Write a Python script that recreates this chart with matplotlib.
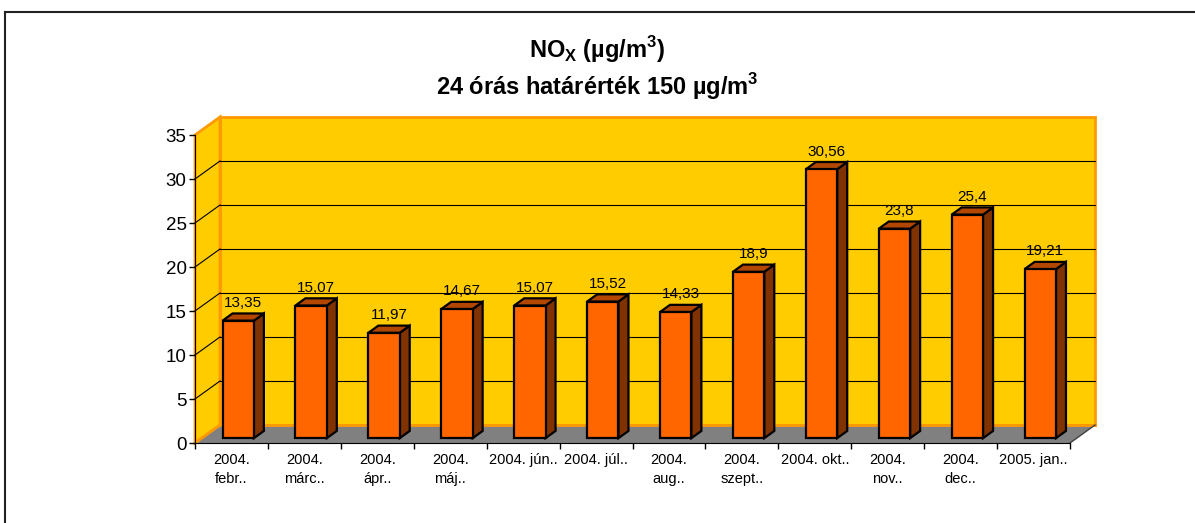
import matplotlib
matplotlib.use('Agg')
import matplotlib.pyplot as plt
from matplotlib.patches import Polygon
from matplotlib.lines import Line2D
from matplotlib.transforms import IdentityTransform

# monthly NOx averages
months = ['2004.\nfebr..', '2004.\nmárc..', '2004.\nápr..', '2004.\nmáj..',
          '2004. jún..', '2004. júl..', '2004.\naug..', '2004.\nszept..',
          '2004. okt..', '2004.\nnov..', '2004.\ndec..', '2005. jan..']
nox = [13.35, 15.07, 11.97, 14.67, 15.07, 15.52, 14.33, 18.9, 30.56, 23.8, 25.4, 19.21]
y_ticks = [0, 5, 10, 15, 20, 25, 30, 35]

W, H, DPI = 1195, 523, 100
DEPTH = (25, 18)            # pixel shift from front plane to back wall
BAR_FRONT, BAR_BACK = 0.27, 0.67
BAR_WIDTH = 0.43

WALL = '#FFCC00'
WALL_EDGE = '#FF9900'
FLOOR = '#808080'
BAR_FACE = '#FF6600'
BAR_SIDE = '#803300'
BAR_TOP = '#B34700'

plt.rcParams['font.family'] = ['Liberation Sans', 'DejaVu Sans']

fig = plt.figure(figsize=(W / DPI, H / DPI), dpi=DPI)
ax = fig.add_axes([195 / W, (H - 443) / H, 875 / W, 308 / H])
ax.set_xlim(0, len(nox))
ax.set_ylim(y_ticks[0], y_ticks[-1])
ax.set_autoscale_on(False)
ax.patch.set_visible(False)
for side in ('top', 'right'):
    ax.spines[side].set_visible(False)
ax.spines['left'].set_zorder(4)
ax.spines['bottom'].set_zorder(4)

n = len(nox)
ymax = y_ticks[-1]


def proj(x, y, d):
    """Data point on the front plane pushed d (0..1) into the depth."""
    px, py = ax.transData.transform((x, y))
    return (px + d * DEPTH[0], py + d * DEPTH[1])


def poly(pts, **kw):
    p = Polygon(pts, closed=True, transform=IdentityTransform(), clip_on=False, **kw)
    ax.add_patch(p)
    return p


def seg(p0, p1, **kw):
    ln = Line2D([p0[0], p1[0]], [p0[1], p1[1]], transform=IdentityTransform(),
                clip_on=False, **kw)
    ax.add_line(ln)


# walls and floor
poly([proj(0, 0, 1), proj(n, 0, 1), proj(n, ymax, 1), proj(0, ymax, 1)],
     facecolor=WALL, edgecolor=WALL_EDGE, linewidth=2, zorder=0.1)
poly([proj(0, 0, 0), proj(0, 0, 1), proj(0, ymax, 1), proj(0, ymax, 0)],
     facecolor=WALL, edgecolor=WALL_EDGE, linewidth=2, zorder=0.1)
poly([proj(0, 0, 0), proj(n, 0, 0), proj(n, 0, 1), proj(0, 0, 1)],
     facecolor=FLOOR, edgecolor='none', zorder=0.2)
seg(proj(0, 0, 1), proj(n, 0, 1), color=WALL_EDGE, linewidth=2, zorder=0.25)
seg(proj(0, 0, 0), proj(0, 0, 1), color=WALL_EDGE, linewidth=2, zorder=0.25)
seg(proj(n, 0, 0), proj(n, 0, 1), color='#404040', linewidth=1, zorder=0.25)

# gridlines on back and side wall
for v in y_ticks[1:-1]:
    seg(proj(0, v, 1), proj(n, v, 1), color='black', linewidth=0.8, zorder=0.3)
    seg(proj(0, v, 0), proj(0, v, 1), color='black', linewidth=0.8, zorder=0.3)

# 3d bars
for i, v in enumerate(nox):
    x0 = i + 0.5 - BAR_WIDTH / 2
    x1 = x0 + BAR_WIDTH
    f, b = BAR_FRONT, BAR_BACK
    kw = dict(edgecolor='black', linewidth=1.6, joinstyle='miter', zorder=3)
    poly([proj(x1, 0, f), proj(x1, 0, b), proj(x1, v, b), proj(x1, v, f)],
         facecolor=BAR_SIDE, **kw)
    poly([proj(x0, v, f), proj(x1, v, f), proj(x1, v, b), proj(x0, v, b)],
         facecolor=BAR_TOP, **kw)
    poly([proj(x0, 0, f), proj(x1, 0, f), proj(x1, v, f), proj(x0, v, f)],
         facecolor=BAR_FACE, **kw)
    cx, cy = proj(i + 0.5, v, (f + b) / 2)
    ax.text(cx, cy + 10, f'{v:g}'.replace('.', ','), transform=IdentityTransform(),
            ha='center', va='baseline', fontsize=11, zorder=5)

# axes ticks and labels
ax.set_yticks(y_ticks)
ax.tick_params(axis='y', direction='out', length=4, width=1, labelsize=13.5, pad=2)
ax.set_xticks(range(n + 1))
ax.set_xticklabels([])
ax.tick_params(axis='x', which='major', direction='out', length=4, width=1)
ax.set_xticks([i + 0.5 for i in range(n)], minor=True)
ax.set_xticklabels(months, minor=True, fontsize=10.5, linespacing=1.45)
ax.tick_params(axis='x', which='minor', length=0, pad=7)

# title
fig.text(0.5, 1 - 50 / H, r'NO$_\mathregular{X}$ (µg/m$^\mathregular{3}$)',
         ha='center', va='center', fontsize=17, fontweight='bold')
fig.text(0.5, 1 - 87 / H, r'24 órás határérték 150 µg/m$^\mathregular{3}$',
         ha='center', va='center', fontsize=17, fontweight='bold')

# chart frame
fig.add_artist(Line2D([5 / W, 1], [1 - 12 / H, 1 - 12 / H], color='#222222', linewidth=1.5))
fig.add_artist(Line2D([5 / W, 5 / W], [0, 1 - 12 / H], color='#222222', linewidth=1.5))

fig.savefig('out.png', dpi=DPI)
